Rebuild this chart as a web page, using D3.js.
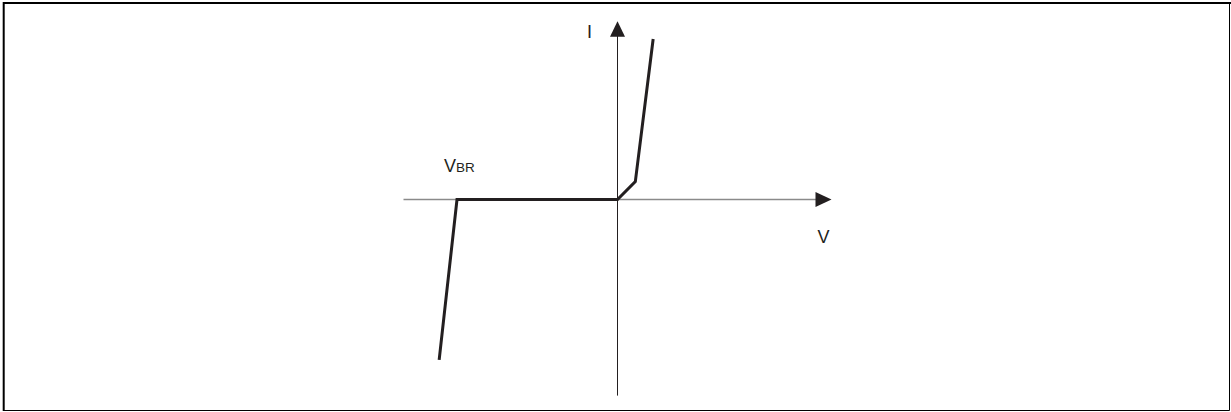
<!DOCTYPE html>
<html>
<head>
<meta charset="utf-8">
<script src="https://cdn.jsdelivr.net/npm/d3@7"></script>
<style>
  body { margin: 0; background: #fff; }
  svg { display: block; }
  text { font-family: Arial, "Liberation Sans", sans-serif; fill: #231f20; }
</style>
</head>
<body>
<div id="chart"></div>
<script>
// I-V characteristic of a diode (arbitrary units)
var curveV = [-10, -9, 0, 1, 2];
var curveI = [-9, 0, 0, 1, 9];
var axisLabels = ["V", "I"];
var breakdownLabel = ["V", "BR"];

var width = 1231,
    height = 412;

var svg = d3.select("#chart")
  .append("svg")
    .attr("width", width)
    .attr("height", height);

// frame
svg.append("path")
  .attr("d", "M3.7,411 V3 H1231")
  .attr("fill", "none")
  .attr("stroke", "#000")
  .attr("stroke-width", 2);
svg.append("path")
  .attr("d", "M3,410.5 H1229.5 V2")
  .attr("fill", "none")
  .attr("stroke", "#000")
  .attr("stroke-width", 1);

var x = d3.scaleLinear()
  .domain([-12, 12])
  .range([403.5, 831.5]);

var y = d3.scaleLinear()
  .domain([-11, 10])
  .range([395.6, 21.2]);

var ink = "#231f20";

// horizontal axis
svg.append("line")
  .attr("x1", x(-12)).attr("x2", x(12) - 12)
  .attr("y1", y(0)).attr("y2", y(0))
  .attr("stroke", "#8a8a8a")
  .attr("stroke-width", 1.4);
svg.append("path")
  .attr("d", "M" + x(12) + "," + y(0) + " l-16,-7.5 v15 z")
  .attr("fill", ink);

// vertical axis
svg.append("line")
  .attr("x1", x(0)).attr("x2", x(0))
  .attr("y1", y(-11)).attr("y2", y(10) + 12)
  .attr("stroke", ink)
  .attr("stroke-width", 1);
svg.append("path")
  .attr("d", "M" + x(0) + "," + y(10) + " l-7.5,15.5 h15 z")
  .attr("fill", ink);

// curve
var pts = curveV.map(function(v, i) { return [v, curveI[i]]; });
var line = d3.line()
  .x(function(d) { return x(d[0]); })
  .y(function(d) { return y(d[1]); });

svg.append("path")
  .datum(pts)
  .attr("d", line)
  .attr("fill", "none")
  .attr("stroke", ink)
  .attr("stroke-width", 3)
  .attr("stroke-linejoin", "miter");

// labels
svg.append("text")
  .attr("x", x(12) - 8)
  .attr("y", y(0) + 44)
  .attr("text-anchor", "middle")
  .style("font-size", "18px")
  .text(axisLabels[0]);

svg.append("text")
  .attr("x", x(0) - 28)
  .attr("y", y(10) + 17)
  .attr("text-anchor", "middle")
  .style("font-size", "18px")
  .text(axisLabels[1]);

var vbr = svg.append("text")
  .attr("x", x(-9) - 13)
  .attr("y", y(0) - 27);
vbr.append("tspan")
  .style("font-size", "18px")
  .text(breakdownLabel[0]);
vbr.append("tspan")
  .style("font-size", "13.5px")
  .text(breakdownLabel[1]);
</script>
</body>
</html>
